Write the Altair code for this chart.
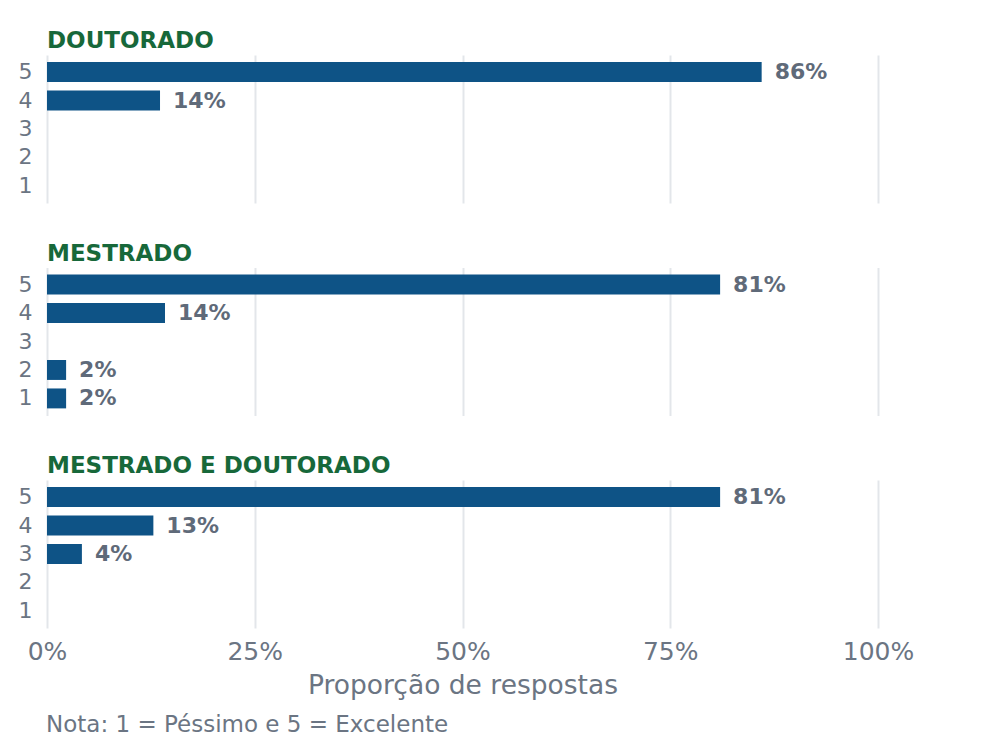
import altair as alt
import pandas as pd

# ---- data ----
grupos = ["DOUTORADO", "MESTRADO", "MESTRADO E DOUTORADO"]
grupo = ["DOUTORADO", "DOUTORADO",
         "MESTRADO", "MESTRADO", "MESTRADO", "MESTRADO",
         "MESTRADO E DOUTORADO", "MESTRADO E DOUTORADO", "MESTRADO E DOUTORADO"]
nota = ["5", "4",
        "5", "4", "2", "1",
        "5", "4", "3"]
proporcao = [0.86, 0.136,
             0.81, 0.142, 0.023, 0.023,
             0.81, 0.128, 0.042]
notas_ordem = ["5", "4", "3", "2", "1"]
x_ticks = [0, 0.25, 0.5, 0.75, 1.0]
eixo_x_titulo = "Proporção de respostas"
nota_rodape = "Nota: 1 = Péssimo e 5 = Excelente"

df = pd.DataFrame({"grupo": grupo, "nota": nota, "proporcao": proporcao})

FONT = "DejaVu Sans"
BAR = "#0e5386"
GREEN = "#17683a"
LABEL = "#5f6a79"
AXIS = "#6b7583"
GRID = "#e3e6ea"


def painel(g, last):
    base = alt.Chart(df).transform_filter(alt.datum.grupo == g)
    xaxis = alt.Axis(
        values=x_ticks, format=".0%", grid=True, gridColor=GRID, gridWidth=2,
        domain=False, ticks=False, labels=last, labelFontSize=25,
        labelColor=AXIS, labelPadding=11, labelFont=FONT, labelFlush=False,
        title=eixo_x_titulo if last else None,
        titleFontSize=26.5, titleFontWeight="normal", titleColor=AXIS,
        titlePadding=8, titleFont=FONT,
    )
    x = alt.X("proporcao:Q", scale=alt.Scale(domain=[0, 1], nice=False), axis=xaxis)
    y = alt.Y(
        "nota:N",
        scale=alt.Scale(domain=notas_ordem, paddingInner=0.3, paddingOuter=0.25),
        axis=alt.Axis(title=None, domain=False, ticks=False, grid=False,
                      labelFontSize=22, labelColor=AXIS, labelPadding=15,
                      labelFont=FONT),
    )
    bars = base.mark_bar(color=BAR).encode(x=x, y=y)
    text = base.mark_text(
        align="left", baseline="middle", dx=13, font=FONT, fontSize=22,
        fontWeight="bold", color=LABEL,
    ).encode(x=x, y=y, text=alt.Text("proporcao:Q", format=".0%"))
    return alt.layer(bars, text).properties(
        width=831, height=148,
        title=alt.TitleParams(g, anchor="start", frame="group", fontSize=23,
                              fontWeight="bold", color=GREEN, baseline="alphabetic",
                              offset=-16, font=FONT),
    )


paineis = [painel(g, i == len(grupos) - 1) for i, g in enumerate(grupos)]

chart = alt.vconcat(*paineis, spacing=39.5).properties(
    title=alt.TitleParams(nota_rodape, orient="bottom", anchor="start",
                          fontSize=23, fontWeight="normal", color=AXIS,
                          offset=15, dx=28, baseline="top", font=FONT),
    padding={"left": 10, "top": 22, "right": 10, "bottom": 5},
).configure(font=FONT).configure_view(strokeWidth=0, strokeOpacity=0)

chart.save("out.html", embed_options={"renderer": "svg", "actions": False})
